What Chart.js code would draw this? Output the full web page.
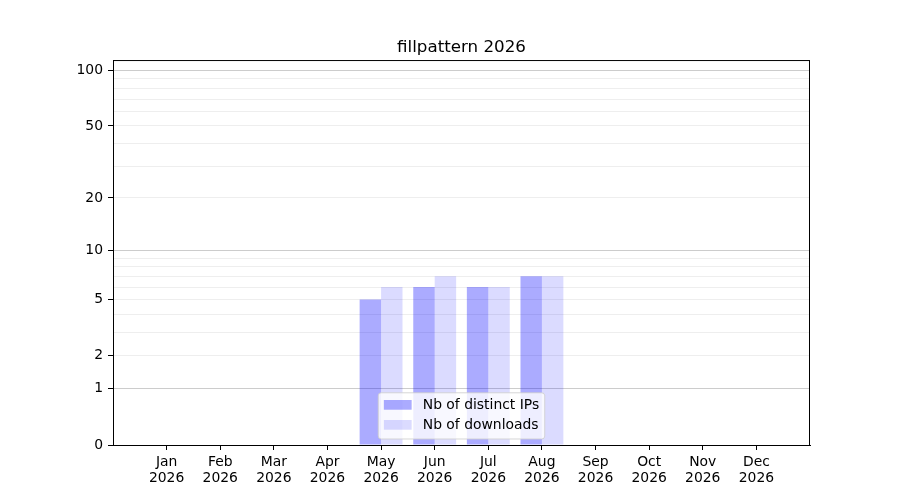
<!DOCTYPE html>
<html>
<head>
<meta charset="utf-8">
<script src="https://cdn.jsdelivr.net/npm/chart.js@4"></script>
<style>
  html, body { margin: 0; padding: 0; background: #fff; }
  #wrap { width: 900px; height: 500px; }
</style>
</head>
<body>
<div id="wrap"><canvas id="statsChart"></canvas></div>
<script>
const months = ['Jan', 'Feb', 'Mar', 'Apr', 'May', 'Jun', 'Jul', 'Aug', 'Sep', 'Oct', 'Nov', 'Dec'];
const year = '2026';
const distinctIps = [null, null, null, null, 5, 6, 6, 7, null, null, null, null];
const downloads = [null, null, null, null, 6, 7, 6, 7, null, null, null, null];
const yTicks = [0, 1, 2, 3, 4, 5, 6, 7, 8, 9, 10, 20, 30, 40, 50, 60, 70, 80, 90, 100];
const yLabelled = [0, 1, 2, 5, 10, 20, 50, 100];
const yMajor = [1, 10, 100];

// y scale drawn as log10(v + 1)
class Log1pScale extends Chart.LinearScale {
    buildTicks() {
        return yTicks.map(v => ({ value: v }));
    }
    configure() {
        super.configure();
        this._tMin = Math.log10(this.min + 1);
        this._tMax = Math.log10(this.max + 1);
    }
    getPixelForValue(v) {
        return this.getPixelForDecimal((Math.log10(v + 1) - this._tMin) / (this._tMax - this._tMin));
    }
    getValueForPixel(p) {
        return Math.pow(10, this._tMin + this.getDecimalForPixel(p) * (this._tMax - this._tMin)) - 1;
    }
}
Log1pScale.id = 'log1p';
Log1pScale.defaults = Chart.LinearScale.defaults;
Chart.register(Log1pScale);

const font = 'DejaVu Sans';

const frame = {
    id: 'frame',
    afterLayout(chart) {
        // centre the title over the plot area, not the whole canvas
        const t = chart.titleBlock, a = chart.chartArea;
        if (t) {
            t.left = a.left;
            t.right = a.right;
            t.width = a.right - a.left;
        }
    },
    afterDraw(chart) {
        const ctx = chart.ctx, a = chart.chartArea;
        ctx.save();
        ctx.strokeStyle = '#000';
        ctx.lineWidth = 1;
        ctx.strokeRect(a.left + 0.5, a.top + 0.5, a.right - a.left - 1, a.bottom - a.top);
        ctx.restore();

        // legend inside the plot, lower centre
        const fs = 13.9;
        ctx.save();
        ctx.font = fs + 'px "' + font + '"';
        const items = chart.data.datasets.map(d => ({ text: d.label, color: d.backgroundColor }));
        const textW = Math.max(...items.map(it => ctx.measureText(it.text).width));
        const pad = 5.6, handle = 27.8, gap = 11.1, rowH = 20;
        const w = pad + handle + gap + textW + pad;
        const h = pad * 2 + rowH * items.length - 7 + 2;
        const x0 = (a.left + a.right) / 2 - w / 2;
        const y0 = a.bottom - 6 - h;
        ctx.beginPath();
        ctx.roundRect(x0, y0, w, h, 3);
        ctx.fillStyle = 'rgba(255,255,255,0.8)';
        ctx.fill();
        ctx.strokeStyle = 'rgba(204,204,204,0.8)';
        ctx.lineWidth = 1;
        ctx.stroke();
        items.forEach((it, i) => {
            const cy = y0 + pad + 6.5 + i * rowH;
            ctx.fillStyle = it.color;
            ctx.fillRect(x0 + pad, cy - 4.9, handle, 9.7);
            ctx.fillStyle = '#000';
            ctx.textBaseline = 'middle';
            ctx.fillText(it.text, x0 + pad + handle + gap, cy);
        });
        ctx.restore();
    }
};

new Chart(document.getElementById('statsChart'), {
    type: 'bar',
    data: {
        datasets: [{
            label: 'Nb of distinct IPs',
            data: distinctIps.map((v, i) => ({ x: i, y: v })),
            backgroundColor: 'rgba(0,0,255,0.33)'
        }, {
            label: 'Nb of downloads',
            data: downloads.map((v, i) => ({ x: i, y: v })),
            backgroundColor: 'rgba(0,0,255,0.14)'
        }]
    },
    options: {
        responsive: true,
        maintainAspectRatio: false,
        animation: false,
        layout: { padding: { left: 0, right: 90, top: 0, bottom: 0 } },
        datasets: { bar: { categoryPercentage: 0.8, barPercentage: 1.0 } },
        plugins: {
            legend: { display: false },
            tooltip: { enabled: false },
            title: {
                display: true,
                text: 'fillpattern ' + year,
                color: '#000',
                font: { family: font, size: 16.7, weight: 'normal', lineHeight: 1.2 },
                padding: { top: 38, bottom: 2 }
            }
        },
        scales: {
            x: {
                type: 'linear',
                min: -1,
                max: 12,
                offset: false,
                afterBuildTicks: s => { s.ticks = months.map((m, i) => ({ value: i })); },
                afterFit: s => { s.height = 55; },
                border: { color: '#000', width: 1 },
                grid: { offset: false, drawOnChartArea: false, tickLength: 5, tickColor: '#000' },
                ticks: {
                    color: '#000',
                    padding: 5,
                    maxRotation: 0,
                    autoSkip: false,
                    font: { family: font, size: 13.9, lineHeight: 1.1 },
                    callback: v => [months[v], year]
                }
            },
            y: {
                type: 'log1p',
                min: 0,
                max: 113.8,
                afterFit: s => { s.width = 113; },
                border: { color: '#000', width: 1 },
                grid: {
                    tickLength: 5,
                    lineWidth: 1,
                    color: c => c.tick.value === 0 ? 'rgba(0,0,0,0)' :
                        (yMajor.includes(c.tick.value) ? '#cccccc' : '#eeeeee'),
                    tickColor: c => yLabelled.includes(c.tick.value) ? '#000' : 'rgba(0,0,0,0)'
                },
                ticks: {
                    color: '#000',
                    padding: 5,
                    autoSkip: false,
                    font: { family: font, size: 13.9 },
                    callback: v => yLabelled.includes(v) ? String(v) : ''
                }
            }
        }
    },
    plugins: [frame]
});
</script>
</body>
</html>
